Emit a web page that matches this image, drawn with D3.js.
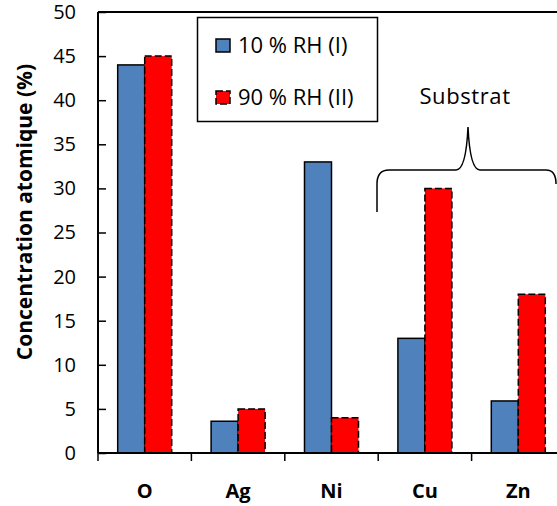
<!DOCTYPE html>
<html><head><meta charset="utf-8">
<script src="https://cdn.jsdelivr.net/npm/d3@7"></script>
<style>body{margin:0;background:#fff}svg{display:block}</style>
</head><body>
<script>
const categories = ["O", "Ag", "Ni", "Cu", "Zn"];
const seriesNames = ["10 % RH (I)", "90 % RH (II)"];
const rh10 = [44, 3.6, 33, 13, 5.9];
const rh90 = [45, 5, 4, 30, 18];
const yTicks = [0, 5, 10, 15, 20, 25, 30, 35, 40, 45, 50];
const yTitle = "Concentration atomique (%)";
const annotation = "Substrat";

(function () {
const W = 557, H = 506;
const font = "'Open Sans', sans-serif";
const svg = d3.select("body").append("svg").attr("width", W).attr("height", H);
const pL = 98, pT = 12, pB = 453, pR = 565;

const x = d3.scaleBand().domain(categories).range([pL, pR]).paddingInner(0).paddingOuter(0);
const y = d3.scaleLinear().domain([0, 50]).range([pB, pT]);
const bw = 27;

svg.append("line").attr("x1", pL).attr("x2", W).attr("y1", pT).attr("y2", pT)
  .attr("stroke", "#000").attr("stroke-width", 2);

const colors = ["#4F81BD", "#FF0000"];
const data = [rh10, rh90];
data.forEach((vals, s) => {
  svg.append("g").selectAll("rect").data(vals).join("rect")
    .attr("x", (d, i) => x(categories[i]) + x.bandwidth() / 2 - bw + s * bw)
    .attr("y", d => y(d))
    .attr("width", bw)
    .attr("height", d => y(0) - y(d))
    .attr("fill", colors[s])
    .attr("stroke", "#000")
    .attr("stroke-width", 1.5)
    .attr("stroke-dasharray", s === 1 ? "7,3" : null);
});

const yAxis = svg.append("g").attr("transform", `translate(${pL},0)`)
  .call(d3.axisLeft(y).tickValues(yTicks).tickSize(-8).tickPadding(22));
yAxis.select(".domain").attr("stroke-width", 2).attr("d", `M0,${pT}V${pB}`);
yAxis.selectAll(".tick line").attr("stroke-width", 1.5);
yAxis.selectAll("text").attr("font-family", font).attr("font-size", 20).attr("fill", "#000");

const xAxis = svg.append("g").attr("transform", `translate(0,${pB})`)
  .call(d3.axisBottom(x).tickSize(0).tickPadding(0));
xAxis.select(".domain").attr("stroke-width", 2).attr("d", `M${pL},0H${pR}`);
xAxis.selectAll("text").attr("font-family", font).attr("font-size", 20).attr("font-weight", "bold")
  .attr("fill", "#000").attr("dy", null).attr("y", 45);
const bounds = categories.map(c => x(c)).concat([x(categories[categories.length - 1]) + x.bandwidth()]);
svg.append("g").selectAll("line").data(bounds).join("line")
  .attr("x1", d => d).attr("x2", d => d).attr("y1", pB).attr("y2", pB + 8)
  .attr("stroke", "#000").attr("stroke-width", 1.5);

svg.append("text").attr("transform", `translate(32,212) rotate(-90)`)
  .attr("text-anchor", "middle").attr("font-family", font).attr("font-size", 21)
  .attr("font-weight", "bold").text(yTitle);

const lg = svg.append("g");
lg.append("rect").attr("x", 197.5).attr("y", 17.5).attr("width", 180).attr("height", 104)
  .attr("fill", "#fff").attr("stroke", "#000").attr("stroke-width", 1.5);
seriesNames.forEach((n, i) => {
  const yy = 39 + i * 52;
  lg.append("rect").attr("x", 216).attr("y", yy).attr("width", 14).attr("height", 13)
    .attr("fill", colors[i]).attr("stroke", "#000").attr("stroke-width", 1.5)
    .attr("stroke-dasharray", i === 1 ? "7,3" : null);
  lg.append("text").attr("x", 238).attr("y", yy + 14).attr("font-family", font)
    .attr("font-size", 22).text(n);
});

svg.append("text").attr("x", 465).attr("y", 104).attr("text-anchor", "middle")
  .attr("font-family", font).attr("font-size", 22).attr("letter-spacing", 0.6).text(annotation);
const bx1 = 377, bx2 = 556, bmid = 468, byTop = 170;
const bracePath = `M${bx1},${byTop + 42} L${bx1},${byTop + 14} Q${bx1},${byTop} ${bx1 + 12},${byTop}
 L${bmid - 12},${byTop} Q${bmid - 2},${byTop} ${bmid},127
 Q${bmid + 2},${byTop} ${bmid + 12},${byTop} L${bx2 - 10},${byTop} Q${bx2},${byTop} ${bx2},${byTop + 14}`;
svg.append("path").attr("d", bracePath).attr("fill", "none").attr("stroke", "#000").attr("stroke-width", 1.5);
})();
</script>
</body></html>
